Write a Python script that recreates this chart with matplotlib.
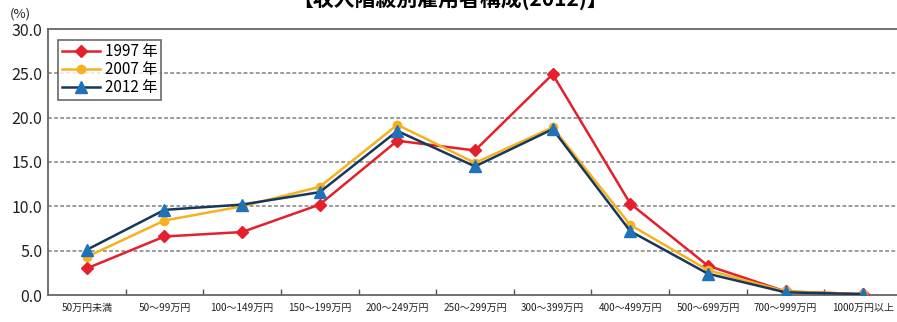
import matplotlib.pyplot as plt
import numpy as np

plt.rcParams['font.family'] = ['Noto Sans CJK JP', 'DejaVu Sans']

RED = '#e3202b'
ORANGE = '#f6b21e'
BLUE_LINE = '#17375e'
BLUE_MARK = '#1f72b8'

categories = ['50万円未満', '50～99万円', '100～149万円', '150～199万円',
              '200～249万円', '250～299万円', '300～399万円', '400～499万円',
              '500～699万円', '700～999万円', '1000万円以上']
share_1997 = [3.0, 6.6, 7.1, 10.2, 17.4, 16.3, 24.9, 10.3, 3.3, 0.4, 0.1]
share_2007 = [4.3, 8.4, 10.0, 12.2, 19.2, 14.9, 18.9, 7.9, 2.8, 0.4, 0.1]
share_2012 = [5.1, 9.6, 10.2, 11.6, 18.5, 14.5, 18.7, 7.2, 2.4, 0.3, 0.1]
yticks = [0, 5, 10, 15, 20, 25, 30]

fig = plt.figure(figsize=(8.97, 3.22), dpi=100)
ax = fig.add_axes([48 / 897, 27 / 322, 854 / 897, 266 / 322])

x = np.arange(len(categories))
ax.plot(x, share_1997, color=RED, lw=1.8, marker='D', ms=6,
        mfc=RED, mec=RED, label='1997 年', zorder=3)
ax.plot(x, share_2007, color=ORANGE, lw=1.8, marker='o', ms=6,
        mfc=ORANGE, mec=ORANGE, label='2007 年', zorder=4)
ax.plot(x, share_2012, color=BLUE_LINE, lw=1.8, marker='^', ms=8,
        mfc=BLUE_MARK, mec=BLUE_MARK, label='2012 年', zorder=5)

ax.set_xlim(-0.5, len(categories) - 0.5)
ax.set_ylim(0, 30)
ax.set_yticks(yticks)
ax.set_yticklabels(['%.1f' % v for v in yticks], fontsize=11.5, color='#222222')
for v in yticks[1:-1]:
    ax.axhline(v, color='#808080', lw=1.1, ls=(0, (2.5, 1.5)), zorder=1)

# category labels centred, tick marks at the boundaries
ax.set_xticks(x)
ax.set_xticklabels(categories, fontsize=7.2, color='#222222')
ax.tick_params(axis='x', length=0, pad=6)
ax.set_xticks(np.arange(0.5, len(categories) - 1, 1), minor=True)
ax.tick_params(axis='x', which='minor', direction='in', length=4,
               color='#555555', width=1)
ax.tick_params(axis='y', length=0, pad=4)

for side in ['left', 'top', 'bottom']:
    ax.spines[side].set_color('#666666')
    ax.spines[side].set_linewidth(1.3)
ax.spines['right'].set_visible(False)

leg = ax.legend(loc='upper left', bbox_to_anchor=(0.012, 0.96), fontsize=11,
                frameon=True, fancybox=False, edgecolor='#444444',
                handlelength=2.5, handletextpad=0.3, borderpad=0.25,
                labelspacing=0.05, borderaxespad=0)
leg.get_frame().set_linewidth(1.2)

fig.text(10 / 897, 1 - 14 / 322, '(%)', fontsize=9.5, color='#222222',
         va='center', ha='left')
fig.text(450 / 897, 1 + 1 / 322, '【収入階級別雇用者構成(2012)】',
         fontsize=15, fontweight='bold', ha='center', va='center')

fig.savefig('out.png', dpi=100)
